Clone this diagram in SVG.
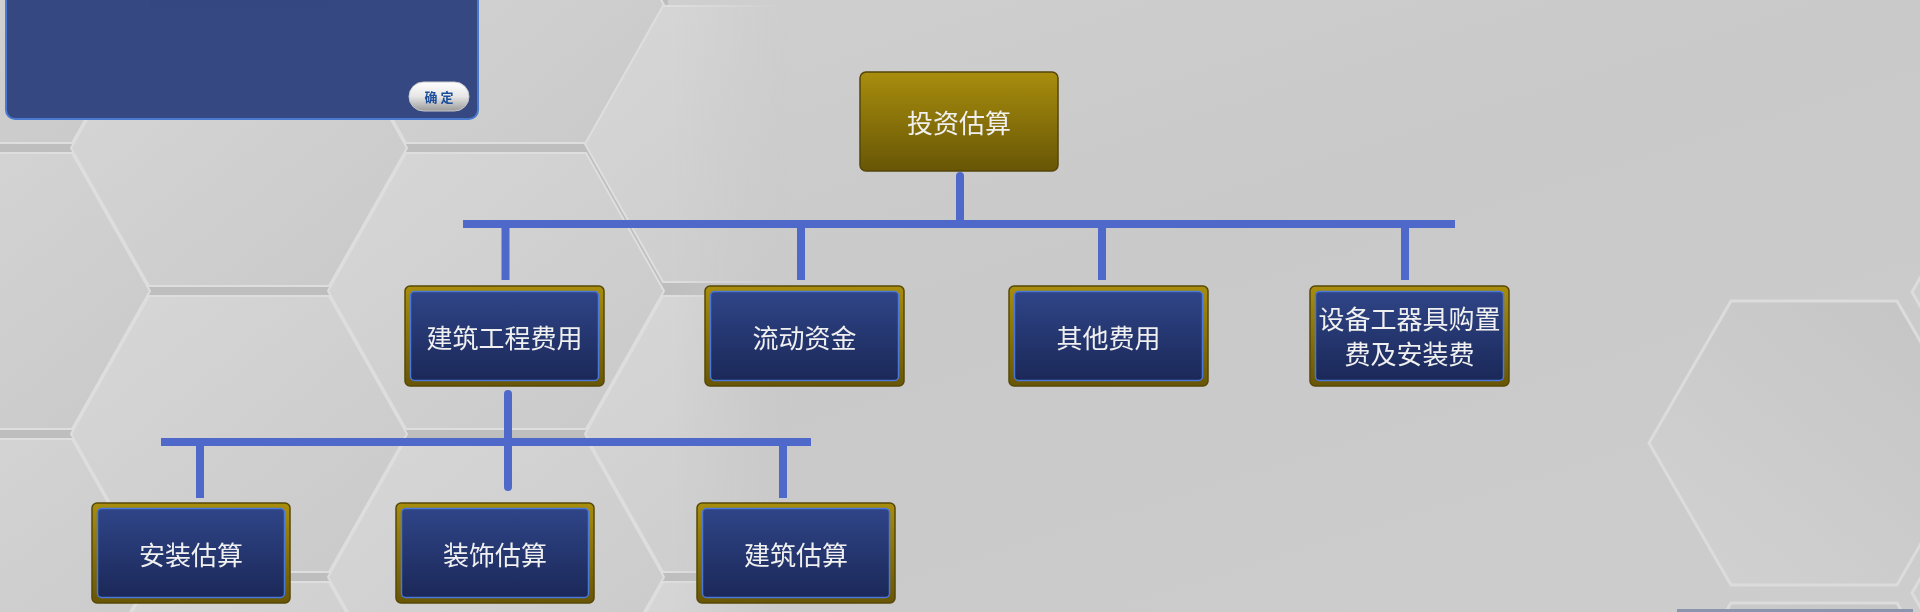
<svg xmlns="http://www.w3.org/2000/svg" width="1920" height="612" viewBox="0 0 1920 612">
<defs>
<linearGradient id="bg" x1="0" y1="0" x2="1" y2="1">
<stop offset="0" stop-color="#d2d2d2"/>
<stop offset="0.5" stop-color="#c9c9c9"/>
<stop offset="1" stop-color="#cdcdcd"/>
</linearGradient>
<linearGradient id="hexf" x1="0" y1="0" x2="1" y2="1">
<stop offset="0" stop-color="#d7d7d7"/>
<stop offset="1" stop-color="#c9c9c9"/>
</linearGradient>
<linearGradient id="hexr" x1="1" y1="0" x2="0" y2="1">
<stop offset="0" stop-color="#c4c4c4"/>
<stop offset="1" stop-color="#d2d2d2"/>
</linearGradient>
<linearGradient id="fade" x1="0" y1="0" x2="1" y2="0">
<stop offset="0" stop-color="#fff"/>
<stop offset="0.35" stop-color="#fff"/>
<stop offset="0.41" stop-color="#fff" stop-opacity="0"/>
</linearGradient>
<mask id="leftmask" maskUnits="userSpaceOnUse" x="0" y="0" width="1920" height="612">
<rect x="0" y="0" width="1920" height="612" fill="url(#fade)"/>
</mask>
<linearGradient id="gold" x1="0" y1="0" x2="0" y2="1">
<stop offset="0" stop-color="#a88d0d"/>
<stop offset="1" stop-color="#685606"/>
</linearGradient>
<linearGradient id="blue" x1="0" y1="0" x2="0" y2="1">
<stop offset="0" stop-color="#2f4588"/>
<stop offset="1" stop-color="#1b2858"/>
</linearGradient>
<linearGradient id="btn" x1="0" y1="0" x2="0" y2="1">
<stop offset="0" stop-color="#ffffff"/>
<stop offset="0.5" stop-color="#e6e6e6"/>
<stop offset="1" stop-color="#9a9a9a"/>
</linearGradient>
<polygon id="hx" points="-168,0 -90,-138 90,-138 168,0 90,138 -90,138"/>
<polygon id="hx2" points="-165,0 -83,-142 83,-142 165,0 83,142 -83,142"/>
</defs>
<style>
.hex{fill:url(#hexf);stroke:#dedede;stroke-width:2}
.hexr{fill:url(#hexr);stroke:#dcdcdc;stroke-width:3}
.outer{fill:url(#gold);stroke:#574808;stroke-width:1.5}
.inner{fill:url(#blue);stroke:#4a78d8;stroke-width:1.5}
.lbl{font-family:"Noto Sans CJK SC","Noto Sans",sans-serif;font-size:26px;fill:#f0f0f0;text-anchor:middle}
.conn{stroke:#4f69cb;stroke-width:8;fill:none}
</style>
<rect x="0" y="0" width="1920" height="612" fill="url(#bg)"/>
<g id="background-hexes">
<g mask="url(#leftmask)">
<polygon points="0,0 668,0 668,6 1000,6 1000,612 0,612" fill="#bebebe"/>
<use href="#hx" x="-18" y="5" class="hex"/>
<use href="#hx" x="-18" y="291" class="hex"/>
<use href="#hx" x="-18" y="577" class="hex"/>
<use href="#hx" x="239" y="148" class="hex"/>
<use href="#hx" x="239" y="434" class="hex"/>
<use href="#hx" x="239" y="720" class="hex"/>
<use href="#hx" x="496" y="5" class="hex"/>
<use href="#hx" x="496" y="291" class="hex"/>
<use href="#hx" x="496" y="577" class="hex"/>
<use href="#hx" x="753" y="144" class="hex"/>
<use href="#hx" x="753" y="434" class="hex"/>
<use href="#hx" x="753" y="720" class="hex"/>
</g>
<use href="#hx2" x="1814" y="443" class="hexr"/>
<use href="#hx2" x="1814" y="745" class="hexr"/>
<use href="#hx2" x="2077" y="292" class="hexr"/>
<use href="#hx2" x="2077" y="593" class="hexr"/>
<rect x="1677" y="609" width="236" height="3" fill="#8a94ac"/>
</g>
<g id="panel">
<rect x="6" y="-12" width="472" height="131" rx="9" fill="#2f437f" fill-opacity="0.97" stroke="#4a7ad0" stroke-width="2"/>
<rect x="409" y="82" width="60" height="29" rx="14.5" fill="url(#btn)" stroke="#c8c8c8" stroke-width="1"/>
<text x="439" y="102" font-family="'Noto Sans CJK SC',sans-serif" font-size="13" font-weight="bold" fill="#1d4e9a" text-anchor="middle">确 定</text>
</g>
<g id="connectors">
<line class="conn" x1="960" y1="176" x2="960" y2="224" stroke-linecap="round"/>
<line class="conn" x1="463" y1="224" x2="1455" y2="224"/>
<line class="conn" x1="505.5" y1="228" x2="505.5" y2="280"/>
<line class="conn" x1="801" y1="228" x2="801" y2="280"/>
<line class="conn" x1="1102" y1="228" x2="1102" y2="280"/>
<line class="conn" x1="1405" y1="228" x2="1405" y2="280"/>
<line class="conn" x1="508" y1="394" x2="508" y2="487" stroke-linecap="round"/>
<line class="conn" x1="161" y1="442" x2="811" y2="442"/>
<line class="conn" x1="200" y1="446" x2="200" y2="498"/>
<line class="conn" x1="783" y1="446" x2="783" y2="498"/>
</g>
<g id="node-root">
<rect x="860" y="72" width="198" height="99" rx="6" fill="url(#gold)" stroke="#54460a" stroke-width="1.5"/>
<text class="lbl" x="959" y="132.5">投资估算</text>
</g>
<g id="node-jzgcfy">
<rect class="outer" x="405" y="286" width="199" height="100" rx="5"/>
<rect class="inner" x="410.5" y="291.5" width="188" height="89" rx="4"/>
<text class="lbl" x="504.5" y="347.5">建筑工程费用</text>
</g>
<g id="node-ldzj">
<rect class="outer" x="705" y="286" width="199" height="100" rx="5"/>
<rect class="inner" x="710.5" y="291.5" width="188" height="89" rx="4"/>
<text class="lbl" x="804.5" y="347.5">流动资金</text>
</g>
<g id="node-qtfy">
<rect class="outer" x="1009" y="286" width="199" height="100" rx="5"/>
<rect class="inner" x="1014.5" y="291.5" width="188" height="89" rx="4"/>
<text class="lbl" x="1108.5" y="347.5">其他费用</text>
</g>
<g id="node-sbgqj">
<rect class="outer" x="1310" y="286" width="199" height="100" rx="5"/>
<rect class="inner" x="1315.5" y="291.5" width="188" height="89" rx="4"/>
<text class="lbl" x="1409.5" y="329">设备工器具购置</text>
<text class="lbl" x="1409.5" y="364">费及安装费</text>
</g>
<g id="node-azgs">
<rect class="outer" x="92" y="503" width="198" height="100" rx="5"/>
<rect class="inner" x="97.5" y="508.5" width="187" height="89" rx="4"/>
<text class="lbl" x="191" y="564.5">安装估算</text>
</g>
<g id="node-zsgs">
<rect class="outer" x="396" y="503" width="198" height="100" rx="5"/>
<rect class="inner" x="401.5" y="508.5" width="187" height="89" rx="4"/>
<text class="lbl" x="495" y="564.5">装饰估算</text>
</g>
<g id="node-jzgs">
<rect class="outer" x="697" y="503" width="198" height="100" rx="5"/>
<rect class="inner" x="702.5" y="508.5" width="187" height="89" rx="4"/>
<text class="lbl" x="796" y="564.5">建筑估算</text>
</g>
</svg>
